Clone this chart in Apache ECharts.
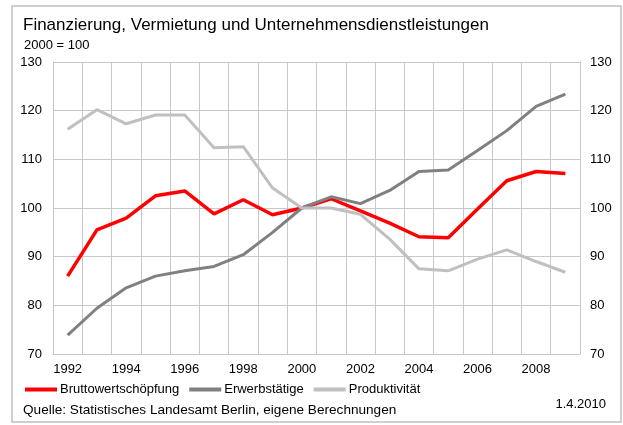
<!DOCTYPE html>
<html>
<head>
<meta charset="utf-8">
<script src="https://cdn.jsdelivr.net/npm/echarts@6/dist/echarts.min.js"></script>
<style>
  html, body { margin: 0; padding: 0; background: #ffffff; }
  #chart { width: 623px; height: 425px; }
</style>
</head>
<body>
<div id="chart"></div>
<script>
// Index values, 2000 = 100
const years = ['1992','1993','1994','1995','1996','1997','1998','1999','2000',
               '2001','2002','2003','2004','2005','2006','2007','2008','2009'];
const bruttowertschoepfung = [86.0, 95.5, 97.9, 102.5, 103.5, 98.8, 101.7, 98.6, 100.0,
                              101.9, 99.4, 96.9, 94.1, 93.9, 99.8, 105.6, 107.5, 107.1];
const erwerbstaetige = [73.9, 79.4, 83.6, 86.0, 87.1, 88.0, 90.4, 95.0, 100.0,
                        102.3, 100.9, 103.6, 107.5, 107.8, 111.8, 115.9, 120.9, 123.4];
const produktivitaet = [116.2, 120.2, 117.3, 119.1, 119.1, 112.4, 112.6, 104.1, 100.0,
                        100.0, 98.7, 93.6, 87.5, 87.1, 89.5, 91.4, 89.0, 86.8];
const yTicks = { min: 70, max: 130, step: 10 };

const font = 'Liberation Sans, Arial, sans-serif';
const gridColor = '#c8c8c8';

const chart = echarts.init(document.getElementById('chart'), null, { renderer: 'canvas' });

function lineSeries(name, data, color, width) {
  return {
    name: name,
    type: 'line',
    data: data,
    symbol: 'none',
    lineStyle: { color: color, width: width },
    itemStyle: { color: color },
    animation: false
  };
}

chart.setOption({
  backgroundColor: '#ffffff',
  textStyle: { fontFamily: font },
  title: [
    {
      text: 'Finanzierung, Vermietung und Unternehmensdienstleistungen',
      left: 18, top: 12,
      textStyle: { fontFamily: font, fontSize: 17, fontWeight: 'normal', color: '#000' }
    },
    {
      text: '2000 = 100',
      left: 19, top: 34,
      textStyle: { fontFamily: font, fontSize: 13, fontWeight: 'normal', color: '#000' }
    },
    {
      text: 'Quelle: Statistisches Landesamt Berlin, eigene Berechnungen',
      left: 18, top: 398,
      textStyle: { fontFamily: font, fontSize: 13.6, fontWeight: 'normal', color: '#000' }
    },
    {
      text: '1.4.2010',
      right: 12, top: 393,
      textStyle: { fontFamily: font, fontSize: 13, fontWeight: 'normal', color: '#000' }
    }
  ],
  legend: {
    left: 20, top: 378,
    itemWidth: 32, itemHeight: 4, itemGap: 10,
    icon: 'rect',
    textStyle: { fontFamily: font, fontSize: 13, color: '#000', padding: [0, 0, 0, -2] },
    data: ['Bruttowertschöpfung', 'Erwerbstätige', 'Produktivität']
  },
  grid: { left: 53, right: 43, top: 62, bottom: 71, containLabel: false },
  xAxis: {
    type: 'category',
    data: years,
    boundaryGap: true,
    axisLine: { show: true, lineStyle: { color: gridColor, width: 1 } },
    axisTick: { show: false },
    axisLabel: { interval: 1, margin: 9, fontFamily: font, fontSize: 13, color: '#000' },
    splitLine: { show: true, interval: 0, lineStyle: { color: gridColor, width: 1 } }
  },
  yAxis: [
    {
      type: 'value', position: 'left',
      min: yTicks.min, max: yTicks.max, interval: yTicks.step,
      axisLine: { show: true, lineStyle: { color: gridColor, width: 1 } },
      axisTick: { show: false },
      axisLabel: { margin: 11, fontFamily: font, fontSize: 13, color: '#000' },
      splitLine: { show: true, lineStyle: { color: gridColor, width: 1 } }
    },
    {
      type: 'value', position: 'right',
      min: yTicks.min, max: yTicks.max, interval: yTicks.step,
      axisLine: { show: true, lineStyle: { color: gridColor, width: 1 } },
      axisTick: { show: false },
      axisLabel: { margin: 10, fontFamily: font, fontSize: 13, color: '#000' },
      splitLine: { show: false }
    }
  ],
  series: [
    lineSeries('Bruttowertschöpfung', bruttowertschoepfung, '#ff0000', 3.5),
    lineSeries('Erwerbstätige', erwerbstaetige, '#808080', 3),
    lineSeries('Produktivität', produktivitaet, '#c0c0c0', 3)
  ],
  graphic: [
    {
      type: 'rect',
      shape: { x: 12, y: 6, width: 609, height: 416 },
      style: { fill: 'none', stroke: '#c0c0c0', lineWidth: 1.5 },
      silent: true
    }
  ],
  animation: false
});
</script>
</body>
</html>
